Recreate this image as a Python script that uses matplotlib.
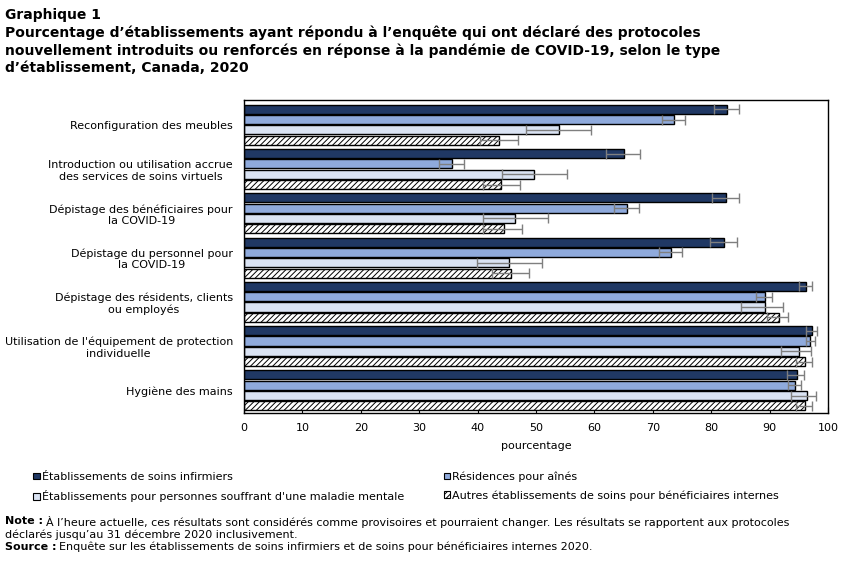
import matplotlib
matplotlib.use("Agg")
import matplotlib.pyplot as plt
from matplotlib.patches import Patch
import numpy as np

plt.rcParams['font.family'] = ['DejaVu Sans']
plt.rcParams['hatch.linewidth'] = 0.7

categories = [
    "Reconfiguration des meubles",
    "Introduction ou utilisation accrue\ndes services de soins virtuels",
    "Dépistage des bénéficiaires pour\nla COVID-19",
    "Dépistage du personnel pour\nla COVID-19",
    "Dépistage des résidents, clients\nou employés",
    "Utilisation de l'équipement de protection\nindividuelle",
    "Hygiène des mains",
]

series = [
    "Établissements de soins infirmiers",
    "Résidences pour aînés",
    "Établissements pour personnes souffrant d'une maladie mentale",
    "Autres établissements de soins pour bénéficiaires internes",
]

# valeurs et intervalles de confiance (bas, haut)
soins_infirmiers = [82.7, 65.0, 82.6, 82.2, 96.3, 97.2, 94.7]
soins_inf_bas = [80.4, 62.0, 80.2, 79.8, 95.0, 96.3, 93.0]
soins_inf_haut = [84.8, 67.8, 84.8, 84.4, 97.2, 98.2, 95.9]

residences = [73.6, 35.6, 65.6, 73.1, 89.2, 97.0, 94.4]
residences_bas = [71.6, 33.4, 63.3, 71.1, 87.7, 96.3, 93.2]
residences_haut = [75.5, 37.6, 67.6, 75.0, 90.4, 97.8, 95.4]

maladie_mentale = [53.9, 49.6, 46.4, 45.4, 89.2, 95.1, 96.4]
maladie_bas = [48.3, 44.2, 40.9, 39.9, 85.1, 91.9, 93.7]
maladie_haut = [59.5, 55.3, 52.1, 51.0, 92.3, 97.1, 98.0]

autres = [43.6, 44.0, 44.5, 45.7, 91.6, 96.1, 96.1]
autres_bas = [40.4, 40.9, 41.0, 42.5, 89.6, 94.6, 94.6]
autres_haut = [46.9, 47.2, 47.6, 48.8, 93.2, 97.2, 97.2]

valeurs = [soins_infirmiers, residences, maladie_mentale, autres]
bas = [soins_inf_bas, residences_bas, maladie_bas, autres_bas]
haut = [soins_inf_haut, residences_haut, maladie_haut, autres_haut]

couleurs = ['#203864', '#8faadc', '#dae3f3', 'white']
hachures = [None, None, None, '//////']

fig = plt.figure(figsize=(8.51, 5.68), dpi=100)
ax = fig.add_axes([244 / 851, 1 - 413 / 568, 584 / 851, 313 / 568])

y = np.arange(len(categories))
pas = 0.233
for k in range(4):
    v = np.array(valeurs[k])
    err = [v - np.array(bas[k]), np.array(haut[k]) - v]
    pos = y + (k - 1.5) * pas
    ax.barh(pos, v, height=0.205, color=couleurs[k], edgecolor='black',
            linewidth=1, hatch=hachures[k], label=series[k], zorder=2)
    ax.errorbar(v, pos, xerr=err, fmt='none', ecolor='#7f7f7f',
                elinewidth=1, capsize=3.5, capthick=1, zorder=3)

ax.set_xlim(0, 100)
ax.set_ylim(6.51, -0.56)
ax.set_xticks(range(0, 101, 10))
ax.set_yticks(y)
ax.set_yticklabels(categories, multialignment='center', fontsize=8)
ax.tick_params(axis='y', length=0, pad=8)
ax.tick_params(axis='x', direction='in', length=4, labelsize=8, pad=7)
ax.set_xlabel('pourcentage', fontsize=8, labelpad=6)
for s in ax.spines.values():
    s.set_linewidth(1)

ordre = [0, 2, 1, 3]
handles = [Patch(facecolor=couleurs[k], edgecolor='black', hatch=hachures[k],
                 linewidth=0.8, label=series[k]) for k in ordre]
fig.legend(handles=handles, loc='upper left', bbox_to_anchor=(29 / 851, 1 - 467 / 568),
           ncol=2, frameon=False, fontsize=8, handlelength=0.55, handleheight=0.55,
           handletextpad=0.2, columnspacing=3.6, labelspacing=0.75,
           borderaxespad=0)

titre = ("Pourcentage d’établissements ayant répondu à l’enquête qui ont déclaré des protocoles\n"
         "nouvellement introduits ou renforcés en réponse à la pandémie de COVID-19, selon le type\n"
         "d’établissement, Canada, 2020")
fig.text(5 / 851, 1 - 8 / 568, "Graphique 1", fontsize=10, fontweight='bold', va='top')
fig.text(5 / 851, 1 - 26 / 568, titre, fontsize=10, fontweight='bold', va='top', linespacing=1.28)

renderer = fig.canvas.get_renderer()

def ligne(x, ypix, gras, texte):
    t = fig.text(x / 851, 1 - ypix / 568, gras, fontsize=8, fontweight='bold', va='top')
    w = t.get_window_extent(renderer).width
    fig.text((x + w + 3) / 851, 1 - ypix / 568, texte, fontsize=8, va='top')

ligne(5, 516, "Note :", "À l’heure actuelle, ces résultats sont considérés comme provisoires et pourraient changer. "
      "Les résultats se rapportent aux protocoles")
fig.text(5 / 851, 1 - 529 / 568, "déclarés jusqu’au 31 décembre 2020 inclusivement.", fontsize=8, va='top')
ligne(5, 542, "Source :", "Enquête sur les établissements de soins infirmiers et de soins pour bénéficiaires internes 2020.")

fig.savefig('out.png', dpi=100)
